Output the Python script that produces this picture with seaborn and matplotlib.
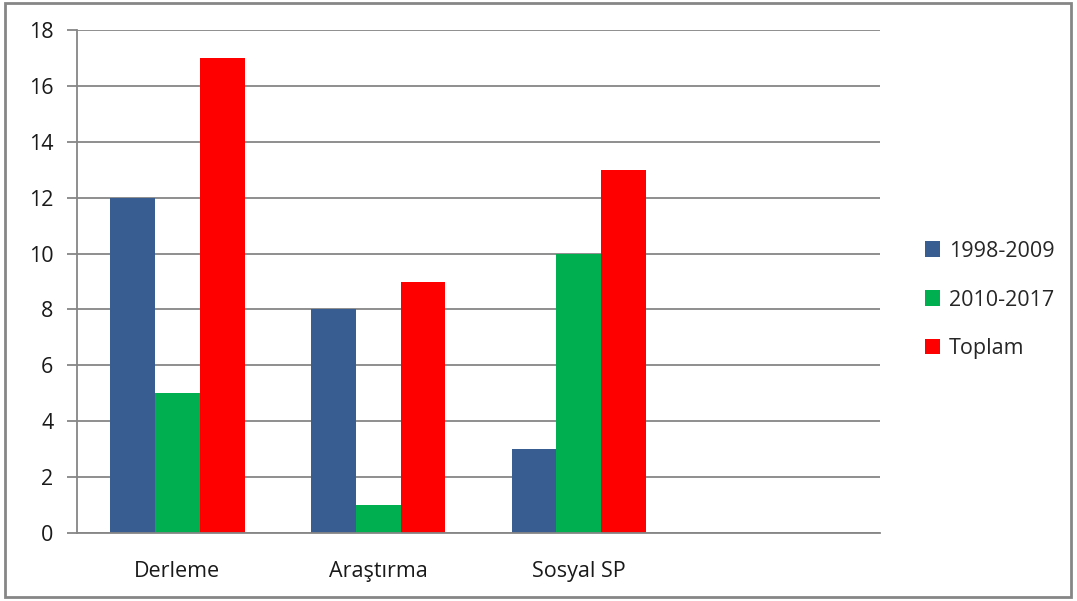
import matplotlib
matplotlib.use("Agg")
import matplotlib.pyplot as plt
import seaborn as sns
import pandas as pd
import numpy as np
from matplotlib.patches import Rectangle

categories = ["Derleme", "Araştırma", "Sosyal SP"]
series_names = ["1998-2009", "2010-2017", "Toplam"]
v_1998_2009 = [12, 8, 3]
v_2010_2017 = [5, 1, 10]
v_toplam = [17, 9, 13]
colors = ["#385E91", "#00B050", "#FF0000"]
yticks = [0, 2, 4, 6, 8, 10, 12, 14, 16, 18]

df = pd.DataFrame({
    "kategori": categories * 3,
    "seri": [series_names[0]] * 3 + [series_names[1]] * 3 + [series_names[2]] * 3,
    "deger": v_1998_2009 + v_2010_2017 + v_toplam,
})

sns.set_style("white")
plt.rcParams["font.family"] = ["Open Sans", "DejaVu Sans"]
FS = 15.5

fig = plt.figure(figsize=(10.77, 6.01), dpi=100)
ax = fig.add_axes([77/1077, 1-533/601, (880-77)/1077, (533-30)/601])

sns.barplot(data=df, x="kategori", y="deger", hue="seri", order=categories,
            hue_order=series_names, palette=colors, width=0.67, gap=0,
            saturation=1, ax=ax, linewidth=0, edgecolor="none")

ax.set_xlim(-0.5, 3.5)
ax.set_ylim(0, 18)
ax.set_yticks(yticks)
ax.set_yticklabels([str(t) for t in yticks], fontsize=FS, color="#1a1a1a")
ax.yaxis.grid(True, color="#868686", linewidth=1.3)
ax.set_axisbelow(True)
ax.set_xlabel("")
ax.set_ylabel("")

ax.set_xticks(range(len(categories)))
ax.set_xticklabels(categories, fontsize=FS, color="#1a1a1a")
ax.set_xticks(np.arange(-0.5, 3.6, 1.0), minor=True)
ax.tick_params(axis="x", which="major", length=0, pad=20)
ax.tick_params(axis="x", which="minor", length=7, width=1.3, color="#868686", direction="out")
ax.tick_params(axis="y", length=7, width=1.3, color="#868686", direction="out", pad=10, left=True)

for s in ["top", "right"]:
    ax.spines[s].set_visible(False)
for s in ["left", "bottom"]:
    ax.spines[s].set_color("#868686")
    ax.spines[s].set_linewidth(1.3)

handles, labels = ax.get_legend_handles_labels()
ax.legend(handles, labels, loc="center left", bbox_to_anchor=(906/1077, 1-300/601),
          bbox_transform=fig.transFigure, frameon=False, fontsize=FS,
          handlelength=0.7, handleheight=0.7, labelspacing=1.3, handletextpad=0.4)

fig.patches.append(Rectangle((5/1077, 4/601), 1066/1077, 594/601, transform=fig.transFigure,
                             fill=False, edgecolor="#868686", linewidth=2))

fig.savefig("out.png", dpi=100)
